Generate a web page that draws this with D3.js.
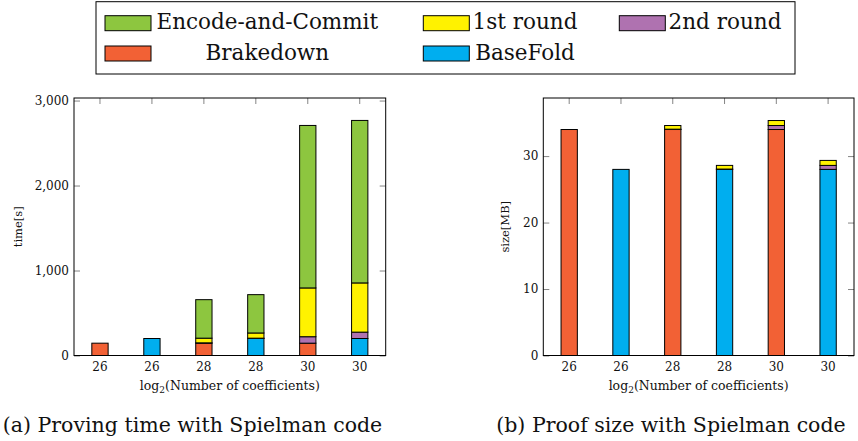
<!DOCTYPE html>
<html>
<head>
<meta charset="utf-8">
<script src="https://cdn.jsdelivr.net/npm/d3@7"></script>
<style>
  body { margin: 0; background: #fff; }
  svg { display: block; font-family: "DejaVu Serif", serif; }
</style>
</head>
<body>
<div id="chart"></div>
<script>
// x categories: log2 of the number of coefficients, one bar per scheme
const coeffLabels = ["26", "26", "28", "28", "30", "30"];
const schemes = ["Brakedown", "BaseFold", "Brakedown", "BaseFold", "Brakedown", "BaseFold"];

// (a) proving time [s]
const timeScheme = [145, 200, 145, 200, 145, 200];
const timeRound2 = [0, 0, 4, 4, 76, 75];
const timeRound1 = [0, 0, 55, 61, 574, 579];
const timeEncode = [0, 0, 453, 451, 1912, 1912];
const timeTicks = [0, 1000, 2000, 3000];

// (b) proof size [MB]
const sizeScheme = [34.0, 28.0, 34.0, 28.0, 34.0, 28.0];
const sizeRound2 = [0, 0, 0.05, 0.05, 0.6, 0.6];
const sizeRound1 = [0, 0, 0.55, 0.55, 0.75, 0.75];
const sizeEncode = [0, 0, 0, 0, 0, 0];
const sizeTicks = [0, 10, 20, 30];

// legend order (3 columns, 2 rows)
const legendOrder = ["Encode-and-Commit", "1st round", "2nd round", "Brakedown", "BaseFold"];
// stacking order, bottom to top
const stackKeys = ["Brakedown", "BaseFold", "2nd round", "1st round", "Encode-and-Commit"];

const colors = {
  "Encode-and-Commit": "#8dc63f",
  "1st round": "#fff200",
  "2nd round": "#af72b0",
  "Brakedown": "#f26135",
  "BaseFold": "#00aeef"
};

const width = 858, height = 441;
const svg = d3.select("#chart").append("svg")
  .attr("width", width)
  .attr("height", height);

const makeRows = (base, r2, r1, enc) => coeffLabels.map((c, i) => ({
  "Brakedown": schemes[i] === "Brakedown" ? base[i] : 0,
  "BaseFold": schemes[i] === "BaseFold" ? base[i] : 0,
  "2nd round": r2[i],
  "1st round": r1[i],
  "Encode-and-Commit": enc[i]
}));

function drawPanel(p) {
  const x = d3.scaleBand().domain(d3.range(coeffLabels.length)).range([p.left, p.right]).padding(0);
  const y = d3.scaleLinear().domain([0, p.ymax]).range([p.bottom, p.top]);
  const g = svg.append("g");
  const barW = 16.3;

  // inward ticks on left / right / top
  const yl = g.append("g").attr("transform", `translate(${p.left},0)`)
    .call(d3.axisLeft(y).tickValues(p.ticks).tickSizeInner(-6).tickSizeOuter(0).tickPadding(5).tickFormat(p.format));
  const yr = g.append("g").attr("transform", `translate(${p.right},0)`)
    .call(d3.axisRight(y).tickValues(p.ticks).tickSizeInner(-6).tickSizeOuter(0).tickFormat(""));
  const xt = g.append("g").attr("transform", `translate(0,${p.top})`)
    .call(d3.axisTop(x).tickSizeInner(-6).tickSizeOuter(0).tickFormat(""));
  const xb = g.append("g").attr("transform", `translate(0,${p.bottom})`)
    .call(d3.axisBottom(x).tickSize(0).tickPadding(7).tickFormat(i => coeffLabels[i]));

  [yl, yr, xt, xb].forEach(a => {
    a.select(".domain").remove();
    a.selectAll("line").attr("stroke", "#666").attr("stroke-width", 0.8);
    a.selectAll("text").attr("font-family", "DejaVu Serif").attr("font-size", 12).attr("fill", "#111");
  });

  // stacked bars
  const series = d3.stack().keys(stackKeys)(p.rows);
  g.append("g").selectAll("g").data(series).join("g")
    .attr("fill", d => colors[d.key])
    .selectAll("rect")
    .data(d => d.map((v, i) => ({ v, i })).filter(o => o.v[1] - o.v[0] > 0))
    .join("rect")
    .attr("x", o => x(o.i) + x.bandwidth() / 2 - barW / 2)
    .attr("width", barW)
    .attr("y", o => y(o.v[1]))
    .attr("height", o => y(o.v[0]) - y(o.v[1]))
    .attr("stroke", "#000")
    .attr("stroke-width", 1);

  // frame
  g.append("rect")
    .attr("x", p.left).attr("y", p.top)
    .attr("width", p.right - p.left).attr("height", p.bottom - p.top)
    .attr("fill", "none").attr("stroke", "#000").attr("stroke-width", 1);

  // axis titles
  const xt2 = g.append("text")
    .attr("x", (p.left + p.right) / 2).attr("y", 390)
    .attr("text-anchor", "middle").attr("font-size", 12.5).attr("fill", "#111");
  xt2.append("tspan").text("log");
  xt2.append("tspan").attr("font-size", 9).attr("dy", 3).text("2");
  xt2.append("tspan").attr("dy", -3).text("(Number of coefficients)");

  g.append("text")
    .attr("transform", `translate(${p.ylabelX},${(p.top + p.bottom) / 2}) rotate(-90)`)
    .attr("text-anchor", "middle").attr("font-size", 11.5).attr("fill", "#111")
    .text(p.ylabel);

  // caption
  svg.append("text")
    .attr("x", p.captionX).attr("y", 432)
    .attr("text-anchor", "middle").attr("font-size", 20.5).attr("fill", "#111")
    .text(p.caption);
}

drawPanel({
  left: 74, right: 385.7, top: 98, bottom: 355.5, ymax: 3030,
  ticks: timeTicks, format: d3.format(","),
  rows: makeRows(timeScheme, timeRound2, timeRound1, timeEncode),
  ylabel: "time[s]", ylabelX: 22,
  caption: "(a) Proving time with Spielman code", captionX: 192.5
});

drawPanel({
  left: 543.3, right: 854, top: 98, bottom: 355.5, ymax: 38.74,
  ticks: sizeTicks, format: d3.format("d"),
  rows: makeRows(sizeScheme, sizeRound2, sizeRound1, sizeEncode),
  ylabel: "size[MB]", ylabelX: 509,
  caption: "(b) Proof size with Spielman code", captionX: 671
});

// legend
const legend = svg.append("g");
legend.append("rect")
  .attr("x", 96).attr("y", 1.7).attr("width", 699).attr("height", 72.3)
  .attr("fill", "#fff").attr("stroke", "#000").attr("stroke-width", 1);

const swatchX = [105, 423.3, 619.3];
const textCX = [267.3, 525, 725];
const rowY = [15.7, 46];
const rowBase = [29.3, 60];

const items = legend.selectAll("g.item").data(legendOrder).join("g").attr("class", "item");
items.append("rect")
  .attr("x", (d, i) => swatchX[i % 3])
  .attr("y", (d, i) => rowY[Math.floor(i / 3)])
  .attr("width", 46).attr("height", 15)
  .attr("fill", d => colors[d]).attr("stroke", "#000").attr("stroke-width", 1);
items.append("text")
  .attr("x", (d, i) => textCX[i % 3])
  .attr("y", (d, i) => rowBase[Math.floor(i / 3)])
  .attr("text-anchor", "middle").attr("font-size", 21.5).attr("fill", "#111")
  .text(d => d);
</script>
</body>
</html>
